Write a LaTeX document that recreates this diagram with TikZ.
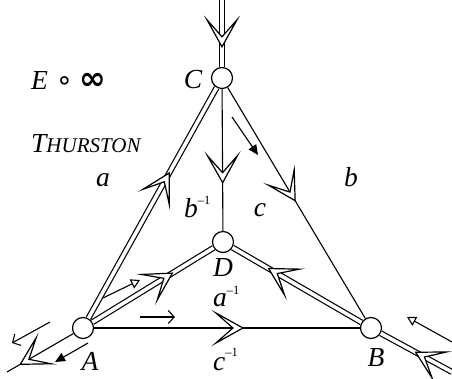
\documentclass[tikz,border=0pt]{standalone}
\usepackage{fontspec}
\setmainfont{Liberation Serif}
\newfontfamily\dejavu{DejaVu Sans}
\usetikzlibrary{arrows.meta}
\begin{document}
\begin{tikzpicture}[x=1pt,y=-1pt,
  vtx/.style={circle,draw,fill=white,line width=1.2pt,minimum size=21pt,inner sep=0pt},
  ln/.style={line width=1.1pt},
  dbl/.style={line width=1.2pt,double,double distance=3.6pt},
  lbl/.style={font=\fontsize{27.5}{32}\selectfont\itshape,inner sep=0pt},
  chev/.pic={\draw[line width=1.2pt,fill=white,line join=miter,miter limit=14] (0,0) -- (-27,15) -- (-10,0) -- (-27,-15) -- cycle;},
  onpath/.style={pos=#1,sloped,allow upside down},
  fillarr/.style={line width=1.1pt,-{Triangle[length=10pt,width=9pt]}},
  openarr/.style={line width=1.1pt,-{Triangle[open,length=9pt,width=10pt]}},
  barbarr/.style={line width=1.1pt,-{Straight Barb[length=6pt,width=13pt]}},
]
\useasboundingbox (0,0) rectangle (452,379);
% vertices
\node[vtx] (C) at (222,78) {};
\node[vtx] (D) at (223,242) {};
\node[vtx] (A) at (83,328) {};
\node[vtx] (B) at (371,328) {};
\coordinate (top) at (222,0);
\coordinate (ll) at (7,372);
\coordinate (lr) at (452,372);
% edges
\draw[dbl] (top) -- (C);
\draw[dbl] (A) -- (C);
\draw[ln] (C) -- (D);
\draw[ln] (C) -- (B);
\draw[dbl] (A) -- (D);
\draw[dbl] (B) -- (D);
\draw[ln] (A) -- (B);
\draw[ln] (A) -- (ll);
\draw[dbl] (lr) -- (B);
% chevrons
\path (top) -- pic[onpath=0.7]{chev} (C);
\path (A) -- pic[onpath=0.63]{chev} (C);
\path (C) -- pic[onpath=0.66]{chev} (D);
\path (C) -- pic[onpath=0.49]{chev} (B);
\path (A) -- pic[onpath=0.66]{chev} (D);
\path (B) -- pic[onpath=0.72]{chev} (D);
\path (A) -- pic[onpath=0.56]{chev} (B);
\path (A) -- pic[onpath=0.80]{chev} (ll);
\path (lr) -- pic[onpath=0.51]{chev} (B);
% small arrows
\coordinate (s1a) at (232,117); \coordinate (s1b) at (258,155);
\coordinate (s2a) at (50,322);  \coordinate (s2b) at (12,343);
\coordinate (s3a) at (88,343);  \coordinate (s3b) at (55,362);
\coordinate (s4a) at (103,298); \coordinate (s4b) at (140,280);
\coordinate (s5a) at (140,317); \coordinate (s5b) at (175,317);
\coordinate (s6a) at (452,342); \coordinate (s6b) at (407,317);
\draw[fillarr] (s1a) -- (s1b);
\draw[barbarr] (s2a) -- (s2b);
\draw[fillarr] (s3a) -- (s3b);
\draw[openarr] (s4a) -- (s4b);
\draw[barbarr] (s5a) -- (s5b);
\draw[openarr] (s6a) -- (s6b);
% labels
\node[lbl] (lC) at (193,80) {C};
\node[lbl] (lA) at (90,361) {A};
\node[lbl] (lB) at (376,358) {B};
\node[lbl] (lD) at (223,268) {D};
\node[lbl] (la) at (103,180) {a};
\node[lbl] (lb) at (351,177) {b};
\node[lbl] (lc) at (260,210) {c};
\node[lbl,anchor=base west] (lbi) at (184,218) {b\raisebox{13pt}{\fontsize{12.5}{12}\selectfont\upshape –1}};
\node[lbl,anchor=base west] (lai) at (213,306) {a\raisebox{12pt}{\fontsize{12.5}{12}\selectfont\upshape –1}};
\node[lbl,anchor=base west] (lci) at (213,370) {c\raisebox{14pt}{\fontsize{12.5}{12}\selectfont\upshape –1}};
\node[lbl,anchor=base west] (title) at (31,90) {E\hspace{8pt}{\upshape\dejavu ∘}\hspace{6pt}{\upshape\fontsize{32}{34}\selectfont\dejavu\bfseries ∞}};
\node[lbl,anchor=base west] (thur) at (31,153) {T{\fontsize{21}{24}\selectfont HURSTON}};
\end{tikzpicture}
\end{document}
